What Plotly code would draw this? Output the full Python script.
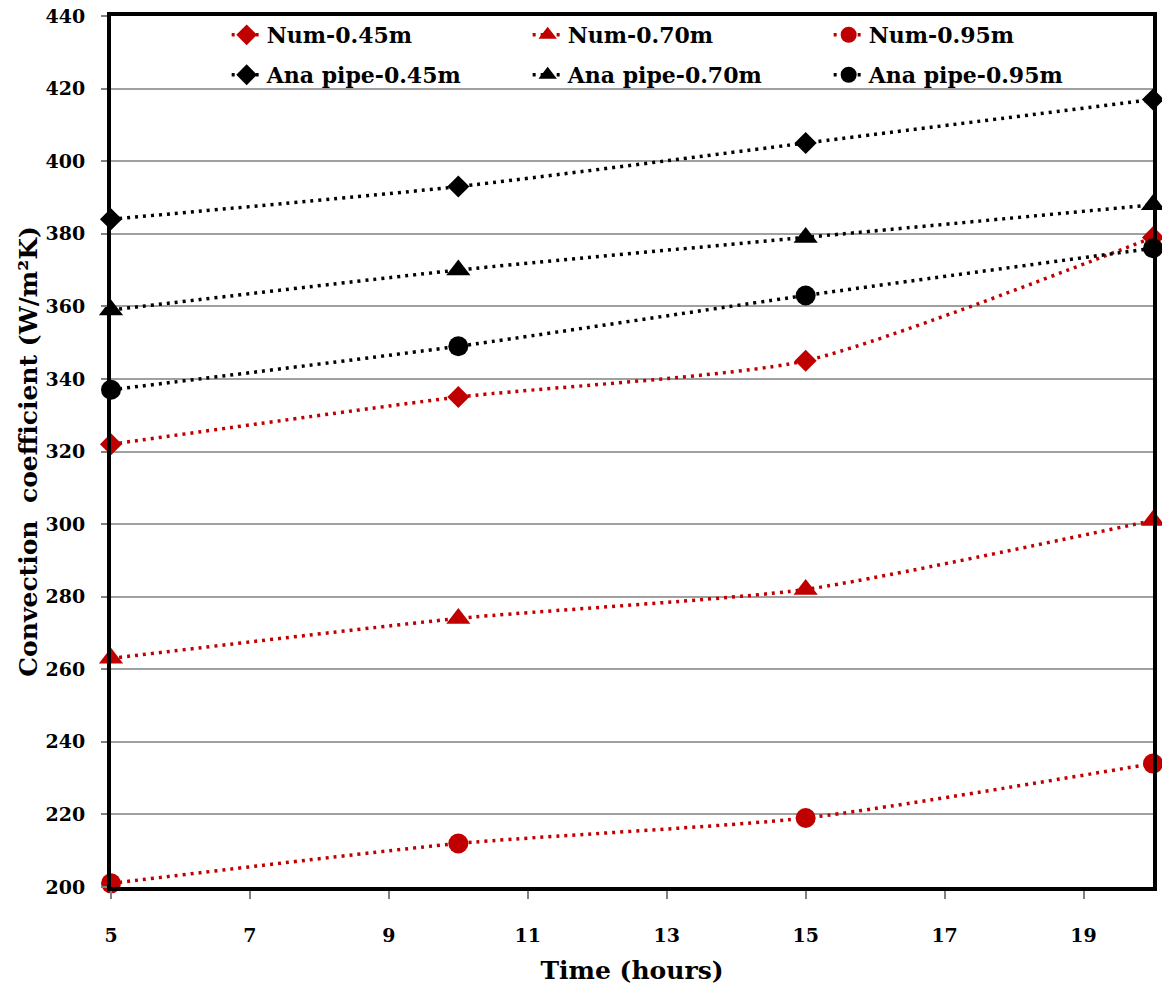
import plotly.graph_objects as go

# Time points (hours)
hours = [5, 10, 15, 20]

# Numerical convection coefficients (W/m²K)
num_045 = [322, 335, 345, 379]
num_070 = [263, 274, 282, 301]
num_095 = [201, 212, 219, 234]

# Analytical pipe correlation (W/m²K)
ana_045 = [384, 393, 405, 417]
ana_070 = [359, 370, 379, 388]
ana_095 = [337, 349, 363, 376]

x_ticks = [5, 7, 9, 11, 13, 15, 17, 19]
y_ticks = list(range(200, 441, 20))

RED = "#c00000"
BLACK = "#000000"
FONT = "DejaVu Serif"

# name, values, colour, marker symbol, marker size, legend row
series = [
    ("Num-0.45m", num_045, RED, "diamond", 17, "legend"),
    ("Num-0.70m", num_070, RED, "triangle-up", 21, "legend"),
    ("Num-0.95m", num_095, RED, "circle", 20, "legend"),
    ("Ana pipe-0.45m", ana_045, BLACK, "diamond", 17, "legend2"),
    ("Ana pipe-0.70m", ana_070, BLACK, "triangle-up", 21, "legend2"),
    ("Ana pipe-0.95m", ana_095, BLACK, "circle", 20, "legend2"),
]

fig = go.Figure()
for name, vals, color, symbol, size, leg in series:
    fig.add_trace(go.Scatter(
        x=hours, y=vals, name=name, mode="lines+markers",
        line=dict(color=color, width=3.5, dash="3px,5px", shape="spline", smoothing=0.6),
        marker=dict(color=color, symbol=symbol, size=size, line=dict(width=0)),
        cliponaxis=False, legend=leg,
    ))

legend_common = dict(
    orientation="h", xanchor="left", yanchor="middle",
    entrywidth=256, entrywidthmode="pixels",
    font=dict(family=FONT, size=22, color="black", weight="bold"),
    bgcolor="rgba(0,0,0,0)", borderwidth=0, tracegroupgap=0,
)

fig.update_layout(
    width=1162, height=990,
    margin=dict(l=111, r=5, t=15, b=103),
    paper_bgcolor="white", plot_bgcolor="white",
    font=dict(family=FONT, color="black", size=19),
    showlegend=True,
    legend=dict(x=0.111, y=1 - (34 - 15) / 872, **legend_common),
    legend2=dict(x=0.111, y=1 - (74 - 15) / 872, **legend_common),
    xaxis=dict(
        range=[5, 20], tickvals=x_ticks, ticktext=[str(v) for v in x_ticks],
        showgrid=False, zeroline=False,
        showline=True, mirror=True, linecolor="black", linewidth=4,
        ticks="outside", ticklen=8, tickwidth=2, tickcolor="#808080",
        ticklabelstandoff=20,
        tickfont=dict(family=FONT, size=19, weight="bold"),
        title=dict(text="Time (hours)", standoff=18,
                   font=dict(family=FONT, size=25, weight="bold")),
    ),
    yaxis=dict(
        range=[200, 440], tickvals=y_ticks,
        showgrid=True, gridcolor="#a0a0a0", gridwidth=2, zeroline=False,
        showline=True, mirror=True, linecolor="black", linewidth=4,
        ticks="outside", ticklen=6, tickwidth=2, tickcolor="#808080",
        ticklabelstandoff=12,
        tickfont=dict(family=FONT, size=19, weight="bold"),
        title=dict(text="Convection  coefficient (W/m²K)", standoff=2,
                   font=dict(family=FONT, size=25, weight="bold")),
    ),
)

fig.write_html("out.html")
